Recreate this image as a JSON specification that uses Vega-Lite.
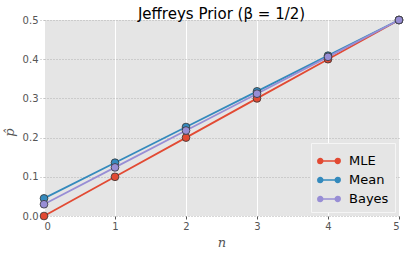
{
  "$schema": "https://vega.github.io/schema/vega-lite/v6.json",
  "autosize": "none",
  "width": 355,
  "height": 196,
  "padding": {"left": 44, "top": 20, "right": 8, "bottom": 39},
  "background": "white",
  "title": {"text": "Jeffreys Prior (β = 1/2)", "font": "DejaVu Sans", "fontSize": 15, "fontWeight": "normal", "color": "black", "offset": -7},
  "config": {
    "view": {"fill": "#e5e5e5", "stroke": null},
    "axis": {"labelFont": "DejaVu Sans", "labelFontSize": 10, "labelColor": "#555555", "titleFont": "DejaVu Serif", "titleFontStyle": "italic", "titleFontWeight": "normal", "titleFontSize": 13, "titleColor": "#555555", "domain": false}
  },
  "data": {"values": [
    {"n": 0, "series": "MLE", "p": 0.0},
    {"n": 1, "series": "MLE", "p": 0.1},
    {"n": 2, "series": "MLE", "p": 0.2},
    {"n": 3, "series": "MLE", "p": 0.3},
    {"n": 4, "series": "MLE", "p": 0.4},
    {"n": 5, "series": "MLE", "p": 0.5},
    {"n": 0, "series": "Mean", "p": 0.045},
    {"n": 1, "series": "Mean", "p": 0.136},
    {"n": 2, "series": "Mean", "p": 0.227},
    {"n": 3, "series": "Mean", "p": 0.318},
    {"n": 4, "series": "Mean", "p": 0.409},
    {"n": 5, "series": "Mean", "p": 0.5},
    {"n": 0, "series": "Bayes", "p": 0.03},
    {"n": 1, "series": "Bayes", "p": 0.124},
    {"n": 2, "series": "Bayes", "p": 0.218},
    {"n": 3, "series": "Bayes", "p": 0.312},
    {"n": 4, "series": "Bayes", "p": 0.406},
    {"n": 5, "series": "Bayes", "p": 0.5}
  ]},
  "encoding": {
    "x": {"field": "n", "type": "quantitative", "scale": {"domain": [0, 5], "nice": false},
      "axis": {"title": "n", "values": [0,1,2,3,4,5], "format": "d", "grid": true, "gridColor": "white", "gridWidth": 1, "tickColor": "#555555", "tickSize": 3, "labelPadding": 2, "titlePadding": 5}},
    "y": {"field": "p", "type": "quantitative", "scale": {"domain": [0, 0.5], "nice": false},
      "axis": {"title": "p̂", "values": [0,0.1,0.2,0.3,0.4,0.5], "format": ".1f", "grid": true, "gridColor": "#b0b0b0", "gridDash": [1, 2], "gridWidth": 1, "tickColor": "#b0b0b0", "tickDash": [1,2], "tickSize": 4, "labelPadding": 2, "titlePadding": 6, "titleY": 112}},
    "color": {"field": "series", "type": "nominal",
      "scale": {"domain": ["MLE", "Mean", "Bayes"], "range": ["#E24A33", "#348ABD", "#988ED5"]},
      "sort": ["MLE", "Mean", "Bayes"],
      "legend": {"title": null, "orient": "bottom-right", "offset": 4, "labelFont": "DejaVu Sans", "labelFontSize": 13, "labelColor": "black", "strokeColor": "#f5f5f5", "fillColor": "#e5e5e5", "padding": 6, "rowPadding": 0, "symbolSize": 500, "symbolStrokeWidth": 1.5, "labelOffset": 8,
        "symbolType": "M-1,0 A0.22,0.22 0 1,1 -0.56,0 A0.22,0.22 0 1,1 -1,0 M-0.56,0 L0.56,0 M0.56,0 A0.22,0.22 0 1,1 1,0 A0.22,0.22 0 1,1 0.56,0 Z"}
    }
  },
  "layer": [
    {"mark": {"type": "line", "strokeWidth": 1.8}, "encoding": {"detail": {"field": "series"}}},
    {"mark": {"type": "point", "filled": true, "size": 60, "opacity": 1, "stroke": "#333333", "strokeWidth": 0.8}, "encoding": {"fill": {"field": "series", "type": "nominal", "scale": {"domain": ["MLE", "Mean", "Bayes"], "range": ["#E24A33", "#348ABD", "#988ED5"]}, "legend": null}, "color": {"value": null}}}
  ]
}
